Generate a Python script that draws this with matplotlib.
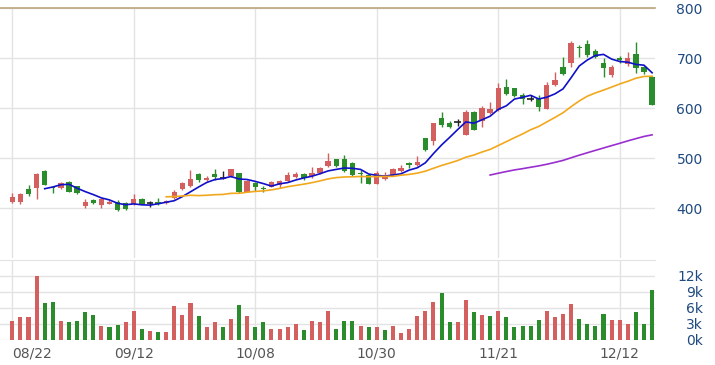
import matplotlib
matplotlib.use("Agg")
import matplotlib.pyplot as plt
import numpy as np
from matplotlib.ticker import FuncFormatter, FixedLocator

# daily OHLC
opens = [413, 413, 438, 440, 475, 442, 440, 452, 444, 405,
         417, 407, 409, 413, 410, 409, 419, 410, 413, 410,
         420, 438, 444, 469, 457, 468, 461, 465, 470, 433,
         451, 441, 443, 447, 455, 462, 469, 465, 470, 485,
         498, 498, 490, 471, 466, 449, 458, 467, 475, 490,
         487, 540, 535, 580, 571, 572, 547, 593, 575, 590,
         597, 643, 640, 626, 618, 620, 599, 647, 682, 691,
         723, 729, 715, 691, 667, 700, 688, 709, 683, 662]
highs = [431, 431, 446, 471, 477, 444, 453, 454, 445, 419,
         418, 421, 416, 416, 413, 428, 420, 415, 420, 417,
         437, 452, 477, 470, 465, 478, 474, 479, 471, 456,
         453, 445, 455, 456, 472, 472, 470, 482, 483, 510,
         499, 507, 492, 477, 468, 474, 472, 481, 487, 493,
         505, 541, 571, 593, 574, 578, 597, 595, 605, 613,
         651, 658, 641, 630, 627, 627, 652, 673, 703, 734,
         727, 737, 718, 700, 687, 705, 713, 733, 684, 665]
lows = [410, 409, 425, 418, 446, 430, 439, 432, 429, 400,
        409, 401, 408, 395, 396, 407, 408, 403, 407, 409,
        419, 437, 443, 453, 454, 457, 458, 463, 431, 432,
        434, 432, 442, 441, 453, 460, 457, 460, 468, 483,
        483, 472, 464, 451, 448, 448, 456, 466, 472, 481,
        485, 515, 527, 563, 560, 565, 546, 556, 562, 588,
        594, 627, 622, 608, 615, 594, 598, 645, 667, 682,
        703, 703, 700, 663, 663, 691, 685, 671, 668, 606]
closes = [423, 428, 429, 469, 447, 440, 451, 433, 430, 413,
          410, 418, 413, 396, 399, 418, 409, 410, 409, 415,
          433, 450, 458, 457, 460, 462, 461, 478, 432, 455,
          443, 439, 453, 455, 467, 469, 460, 470, 480, 495,
          484, 474, 467, 469, 449, 470, 467, 478, 481, 486,
          493, 517, 570, 567, 562, 572, 593, 557, 601, 598,
          640, 629, 624, 619, 618, 603, 647, 657, 669, 730,
          720, 707, 702, 680, 683, 696, 700, 680, 672, 607]
volumes = [3550, 4200, 4200, 12000, 6850, 7000, 3550, 3300, 3550, 5150,
           4670, 2600, 2350, 2800, 3300, 5400, 2100, 1680, 1500, 1500,
           6350, 4670, 6850, 4480, 2350, 3300, 2350, 4000, 6550, 4480,
           2350, 3300, 2100, 2100, 2350, 3050, 1870, 3550, 3300, 5400,
           2100, 3550, 3550, 2600, 2350, 2350, 1870, 2600, 1250, 2100,
           4480, 5400, 7000, 8700, 3300, 3300, 7500, 5150, 4670, 4480,
           5400, 4230, 2350, 2600, 2600, 3730, 5400, 4230, 4900, 6650,
           4000, 3050, 2600, 4900, 3730, 3730, 3050, 5150, 3050, 9400]
date_labels = ["08/22", "09/12", "10/08", "10/30", "11/21", "12/12"]
date_index = [0, 15, 30, 45, 60, 75]

UP = "#d35f5f"
DOWN = "#2a8c2a"
GRID = "#e3e3e3"
LABEL_BLUE = "#1f4a80"


def moving_average(vals, n):
    vals = np.asarray(vals, dtype=float)
    out = np.full(len(vals), np.nan)
    for i in range(n - 1, len(vals)):
        out[i] = vals[i - n + 1:i + 1].mean()
    return out


o = np.array(opens, dtype=float)
h = np.array(highs, dtype=float)
l = np.array(lows, dtype=float)
c = np.array(closes, dtype=float)
x = np.arange(len(c))

fig = plt.figure(figsize=(7.15, 3.65), dpi=100)
ax = fig.add_axes([0.0, 0.2923, 0.916, 0.685])
axv = fig.add_axes([0.0, 0.0685, 0.916, 0.2203])

# ── candles ─────────────────────────────────────────────
doji = np.abs(c - o) < 0.5
cols = np.where(doji, "#222222", np.where(c > o, UP, DOWN))
ax.vlines(x, l, h, colors=cols, linewidth=1, zorder=2)
body = ~doji
ax.bar(x[body], (c - o)[body], bottom=o[body], width=0.66,
       color=cols[body], linewidth=0, zorder=3)
ax.hlines(c[doji], x[doji] - 0.4, x[doji] + 0.4, colors="#222222",
          linewidth=1.2, zorder=3)

ax.plot(x, moving_average(c, 5), color="#1010c8", lw=1.2, zorder=4)
ax.plot(x, moving_average(c, 20), color="#f2a81d", lw=1.2, zorder=4)
ax.plot(x, moving_average(c, 60), color="#9a2fcf", lw=1.2, zorder=4)

# ── volume ──────────────────────────────────────────────
prev = np.concatenate([[c[0] - 1], c[:-1]])
vcols = np.where(c >= prev, UP, DOWN)
axv.bar(x, volumes, width=0.5, color=vcols, linewidth=0, zorder=3)

xlim = (-1.52, 79.35)
for a in (ax, axv):
    a.set_xlim(*xlim)
    a.xaxis.set_major_locator(FixedLocator(date_index))
    a.grid(True, color=GRID, linewidth=1, zorder=0)
    a.set_axisbelow(True)
    for s in ("left", "right", "bottom"):
        a.spines[s].set_visible(False)
    a.tick_params(length=0)
    a.yaxis.tick_right()

ax.set_ylim(300, 800)
ax.set_yticks([400, 500, 600, 700, 800])
ax.spines["top"].set_color("#bba57c")
ax.spines["top"].set_linewidth(1.2)
ax.set_xticklabels([])
ax.tick_params(axis="y", labelsize=10, labelcolor=LABEL_BLUE, pad=34.5)
for t in ax.get_yticklabels():
    t.set_horizontalalignment("right")

axv.set_ylim(0, 15000)
axv.set_yticks([0, 3000, 6000, 9000, 12000])
axv.yaxis.set_major_formatter(FuncFormatter(lambda v, _: f"{v/1000:.0f}k"))
axv.spines["top"].set_color(GRID)
axv.tick_params(axis="y", labelsize=10, labelcolor=LABEL_BLUE, pad=34.5)
for t in axv.get_yticklabels():
    t.set_horizontalalignment("right")
axv.set_xticklabels(date_labels)
axv.tick_params(axis="x", labelsize=10, labelcolor="#555555", pad=5)
# first date would run off the left edge, so anchor it at its gridline
axv.get_xticklabels()[0].set_horizontalalignment("left")

fig.savefig("out.png", dpi=100)
